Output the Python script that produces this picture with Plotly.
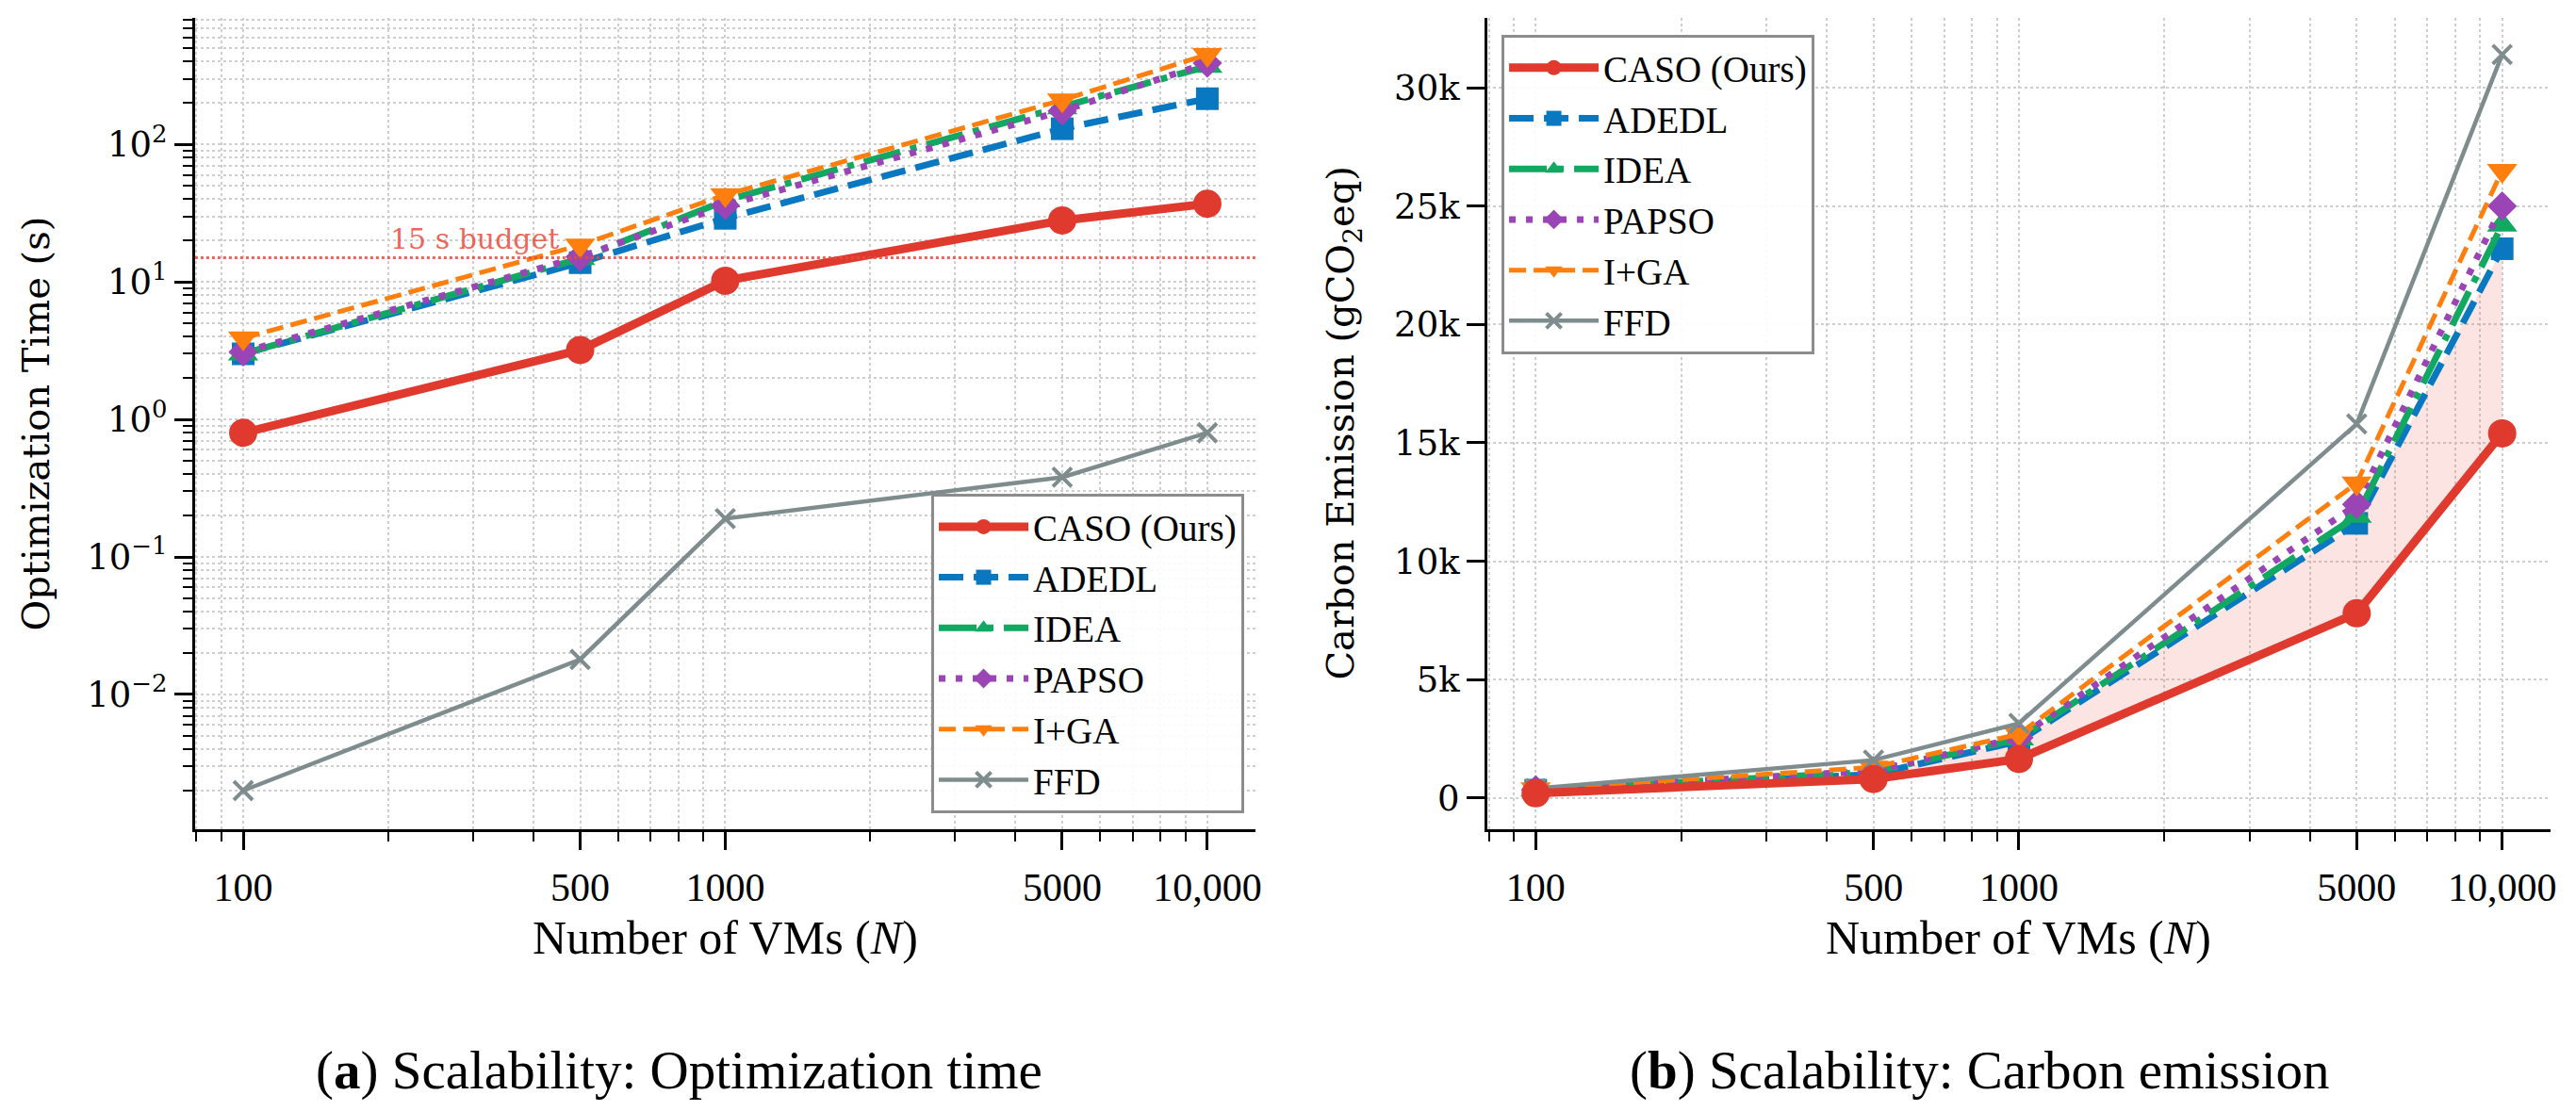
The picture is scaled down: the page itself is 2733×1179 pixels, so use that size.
import math
import plotly.graph_objects as go
from plotly.subplots import make_subplots

# -- data --
vms = [100, 500, 1000, 5000, 10000]
vm_labels = ["100", "500", "1000", "5000", "10,000"]

# (a) optimization time in seconds
time_caso = [0.8, 3.2, 10.2, 28, 37]
time_adedl = [3.0, 13.8, 29, 130, 215]
time_idea = [3.0, 14.8, 39, 185, 370]
time_papso = [3.1, 15.2, 36, 175, 390]
time_iga = [3.9, 18.5, 43, 210, 450]
time_ffd = [0.002, 0.018, 0.19, 0.38, 0.8]

# (b) carbon emission in gCO2eq
co2_caso = [200, 800, 1650, 7800, 15400]
co2_adedl = [330, 1000, 2400, 11600, 23200]
co2_idea = [340, 1100, 2500, 11900, 24200]
co2_papso = [350, 1150, 2550, 12400, 25000]
co2_iga = [380, 1300, 2700, 13300, 26500]
co2_ffd = [400, 1600, 3150, 15800, 31400]

budget_s = 15
budget_text_at = 200

time_ticks = [0.01, 0.1, 1, 10, 100]
time_ticktext = ["10<sup>\u22122</sup>", "10<sup>\u22121</sup>", "10<sup>0</sup>", "10<sup>1</sup>", "10<sup>2</sup>"]
co2_ticks = [0, 5000, 10000, 15000, 20000, 25000, 30000]
co2_ticktext = ["0", "5k", "10k", "15k", "20k", "25k", "30k"]

methods = ["CASO (Ours)", "ADEDL", "IDEA", "PAPSO", "I+GA", "FFD"]
times = [time_caso, time_adedl, time_idea, time_papso, time_iga, time_ffd]
co2s = [co2_caso, co2_adedl, co2_idea, co2_papso, co2_iga, co2_ffd]

styles = {
    "CASO (Ours)": dict(color="#e03a2e", dash="solid", symbol="circle", width=9, size=30),
    "ADEDL": dict(color="#0a78c0", dash="26px,11px", symbol="square", width=7, size=24),
    "IDEA": dict(color="#13a862", dash="40px,11px,7px,11px", symbol="triangle-up", width=7, size=28),
    "PAPSO": dict(color="#9a44b5", dash="7px,11px", symbol="diamond", width=7, size=24),
    "I+GA": dict(color="#ff7f0e", dash="18px,8px", symbol="triangle-down", width=5, size=28),
    "FFD": dict(color="#7f8c8d", dash="solid", symbol="x-thin", width=4.5, size=20),
}

SERIF = "DejaVu Serif"
TIMES = "Liberation Serif"
GRID = "#cfcfcf"

fig = make_subplots(rows=1, cols=2)

# shaded gap between CASO and the best baseline (panel b)
fig.add_trace(go.Scatter(x=vms, y=co2_adedl, mode="lines", line=dict(width=0),
                         showlegend=False, hoverinfo="skip"), row=1, col=2)
fig.add_trace(go.Scatter(x=vms, y=co2_caso, mode="lines", line=dict(width=0),
                         fill="tonexty", fillcolor="rgba(231,76,60,0.15)",
                         showlegend=False, hoverinfo="skip"), row=1, col=2)

# draw baselines first, CASO on top
order = [1, 2, 3, 4, 5, 0]
for col, (data, leg) in enumerate([(times, "legend"), (co2s, "legend2")], start=1):
    for i in order:
        name = methods[i]
        s = styles[name]
        marker = dict(symbol=s["symbol"], size=s["size"], color=s["color"], line=dict(width=0))
        if s["symbol"] == "x-thin":
            marker["line"] = dict(width=4, color=s["color"])
        fig.add_trace(go.Scatter(
            x=vms, y=data[i], name=name, mode="lines+markers",
            line=dict(color=s["color"], width=s["width"], dash=s["dash"]),
            marker=marker, legend=leg, legendrank=i + 1,
        ), row=1, col=col)

# 15 s budget line
fig.add_hline(y=budget_s, row=1, col=1, line=dict(color="#e74c3c", width=3, dash="dot"), opacity=0.85)
fig.add_annotation(x=math.log10(budget_text_at), y=math.log10(budget_s), xref="x", yref="y",
                   text=f"{budget_s} s budget", showarrow=False, xanchor="left", yanchor="bottom",
                   font=dict(family=SERIF, size=30, color="rgba(231,76,60,0.85)"))

minor_x = [m * 10 ** e for e in (1, 2, 3) for m in range(2, 10)
           if 79 < m * 10 ** e < 12600 and m * 10 ** e not in vms]
minor_y = [m * 10 ** e for e in range(-3, 3) for m in range(2, 10)
           if 10 ** -2.98 < m * 10 ** e < 10 ** 2.92]

axis_common = dict(
    showline=True, linewidth=3, linecolor="black", mirror=False,
    ticks="outside", ticklen=19, tickwidth=3, tickcolor="black",
    showgrid=True, gridcolor=GRID, griddash="dot", gridwidth=2,
    zeroline=False, automargin=False,
)
minor_common = dict(ticks="outside", ticklen=10, tickwidth=2, tickcolor="black",
                    showgrid=True, gridcolor=GRID, griddash="dot", gridwidth=1.5)

for ax, dom in (("xaxis", [0.0757, 0.4874]), ("xaxis2", [0.5774, 0.9901])):
    fig.layout[ax].update(type="log", range=[1.9, 4.1], domain=dom,
                          tickmode="array", tickvals=vms, ticktext=vm_labels,
                          ticklabelstandoff=4,
                          tickfont=dict(family=TIMES, size=42, color="black"),
                          minor=dict(tickmode="array", tickvals=minor_x, **minor_common),
                          **axis_common)

yfont = dict(family=SERIF, size=37, color="black")
fig.layout.yaxis.update(type="log", range=[-2.98, 2.92], domain=[0.2536, 0.9839],
                        tickmode="array", tickvals=time_ticks, ticktext=time_ticktext,
                        tickfont=yfont,
                        minor=dict(tickmode="array", tickvals=minor_y, **minor_common),
                        **axis_common)
fig.layout.yaxis2.update(range=[-1320, 32950], domain=[0.2536, 0.9839],
                         tickmode="array", tickvals=co2_ticks, ticktext=co2_ticktext,
                         tickfont=yfont, **axis_common)

# axis titles and captions
ytitle_font = dict(family=SERIF, size=40, color="black")
xtitle_font = dict(family=TIMES, size=50, color="black")
fig.add_annotation(text="Optimization Time (s)", textangle=-90, x=38 / 2733, y=0.6187,
                   xref="paper", yref="paper", xanchor="center", yanchor="middle",
                   showarrow=False, font=ytitle_font)
fig.add_annotation(text="Carbon Emission (gCO<sub>2</sub>eq)", textangle=-90, x=1425 / 2733, y=0.6187,
                   xref="paper", yref="paper", xanchor="center", yanchor="middle",
                   showarrow=False, font=ytitle_font)
for xr in ("x domain", "x2 domain"):
    fig.add_annotation(text="Number of VMs (<i>N</i>)", x=0.5, y=(1179 - 995) / 1179, xref=xr, yref="paper",
                       xanchor="center", yanchor="middle", showarrow=False, font=xtitle_font)

cap_font = dict(family=TIMES, size=57, color="black")
fig.add_annotation(text="(<b>a</b>) Scalability: Optimization time", x=720 / 2733, y=(1179 - 1136) / 1179,
                   xref="paper", yref="paper", xanchor="center", yanchor="middle",
                   showarrow=False, font=cap_font)
fig.add_annotation(text="(<b>b</b>) Scalability: Carbon emission", x=2100 / 2733, y=(1179 - 1136) / 1179,
                   xref="paper", yref="paper", xanchor="center", yanchor="middle",
                   showarrow=False, font=cap_font)

legend_style = dict(font=dict(family=TIMES, size=39, color="black"), bgcolor="rgba(255,255,255,0.9)",
                    bordercolor="#8c8c8c", borderwidth=3, itemwidth=95, traceorder="normal")
fig.update_layout(
    width=2733, height=1179,
    margin=dict(l=0, r=0, t=0, b=0),
    paper_bgcolor="white", plot_bgcolor="white",
    legend=dict(x=0.483, y=0.268, xanchor="right", yanchor="bottom", **legend_style),
    legend2=dict(x=0.5829, y=0.9686, xanchor="left", yanchor="top", **legend_style),
)

fig.write_html("out.html", config={"displayModeBar": False},
               post_script="document.body.style.margin='0';document.body.style.overflow='hidden';")
